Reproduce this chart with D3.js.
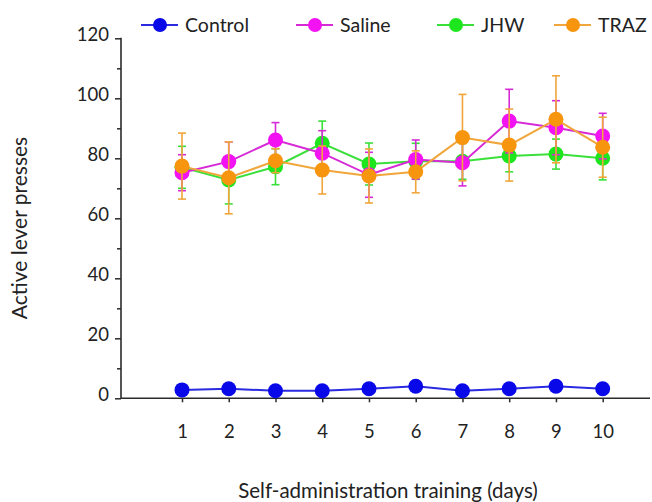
<!DOCTYPE html>
<html>
<head>
<meta charset="utf-8">
<script src="https://cdn.jsdelivr.net/npm/d3@7"></script>
<style>
  body { margin: 0; background: #fff; }
  svg { font-family: Lato, "Open Sans", sans-serif; }
</style>
</head>
<body>
<svg width="652" height="502"></svg>
<script>
// data
let days = [1, 2, 3, 4, 5, 6, 7, 8, 9, 10];
let yTicks = [0, 20, 40, 60, 80, 100, 120];
let yMinor = [10, 30, 50, 70, 90, 110];

let controlMean = [2.8, 3.2, 2.5, 2.5, 3.2, 4.0, 2.5, 3.2, 4.0, 3.2];
let controlSem  = [0.8, 0.8, 0.8, 0.8, 0.8, 0.8, 0.8, 0.8, 0.8, 0.8];
let jhwMean     = [77.0, 72.8, 77.2, 85.0, 78.1, 79.0, 79.0, 80.8, 81.4, 80.0];
let jhwSem      = [7.0, 8.0, 6.0, 7.4, 7.0, 6.0, 6.0, 5.3, 5.0, 7.2];
let salineMean  = [75.2, 78.9, 86.1, 81.7, 74.5, 79.6, 78.5, 92.4, 90.2, 87.4];
let salineSem   = [6.0, 6.6, 5.8, 7.5, 7.5, 6.5, 7.7, 10.6, 9.0, 7.6];
let trazMean    = [77.4, 73.5, 79.2, 76.1, 74.1, 75.5, 86.9, 84.4, 93.0, 83.7];
let trazSem     = [11.0, 12.0, 4.0, 8.0, 9.0, 7.0, 14.4, 12.0, 14.5, 10.0];

var svg = d3.select('svg');

let x = d3.scaleLinear().domain([1, 10]).range([182, 602.7]);
let y = d3.scaleLinear().domain([0, 120]).range([398.3, 38.3]);

let axisColor = '#2b2b2b';

// axes
let yAxis = svg.append('g')
    .attr('transform', 'translate(121,0)')
    .call(d3.axisLeft(y).tickValues(yTicks).tickSize(6).tickPadding(6).tickSizeOuter(0));
yAxis.select('.domain').remove();
yAxis.selectAll('line').attr('stroke', axisColor).attr('stroke-width', 1.5);
yAxis.selectAll('text')
    .attr('font-size', 18.5)
    .attr('fill', '#222')
    .attr('font-family', 'Lato, sans-serif')
    .attr('dy', '0.1em');

let yMinorAxis = svg.append('g')
    .attr('transform', 'translate(121,0)')
    .call(d3.axisLeft(y).tickValues(yMinor).tickSize(4).tickFormat(''));
yMinorAxis.select('.domain').remove();
yMinorAxis.selectAll('line').attr('stroke', axisColor).attr('stroke-width', 1.5);

svg.append('line')
    .attr('x1', 121).attr('x2', 121)
    .attr('y1', y(120) - 0.5).attr('y2', y(0) + 0.5)
    .attr('stroke', axisColor).attr('stroke-width', 1.6);

let xAxis = svg.append('g')
    .attr('transform', `translate(0,${y(0)})`)
    .call(d3.axisBottom(x).tickValues(days).tickSize(4).tickPadding(23).tickFormat(d3.format('d')));
xAxis.select('.domain').remove();
xAxis.selectAll('line').attr('stroke', axisColor).attr('stroke-width', 1.5);
xAxis.selectAll('text')
    .attr('font-size', 18.5)
    .attr('fill', '#222')
    .attr('font-family', 'Lato, sans-serif');

svg.append('line')
    .attr('x1', 121).attr('x2', 650)
    .attr('y1', y(0)).attr('y2', y(0))
    .attr('stroke', axisColor).attr('stroke-width', 1.6);

// axis titles
svg.append('text')
    .attr('x', 388).attr('y', 498)
    .attr('text-anchor', 'middle')
    .attr('font-size', 20.5)
    .attr('fill', '#222')
    .text('Self-administration training (days)');

svg.append('text')
    .attr('transform', 'translate(27,228) rotate(-90)')
    .attr('text-anchor', 'middle')
    .attr('font-size', 21)
    .attr('fill', '#222')
    .text('Active lever presses');

// series
let series = [
    {name: 'Control', mean: controlMean, sem: controlSem, dot: '#0808e8', line: '#2a2ae0'},
    {name: 'JHW', mean: jhwMean, sem: jhwSem, dot: '#1ee61e', line: '#3ae03a'},
    {name: 'Saline', mean: salineMean, sem: salineSem, dot: '#f212f2', line: '#d72ad7'},
    {name: 'TRAZ', mean: trazMean, sem: trazSem, dot: '#f7950f', line: '#f0a63a'}
];

let line = d3.line().x((d, i) => x(days[i])).y(d => y(d));

series.forEach(function (s) {
    let g = svg.append('g');
    g.append('path')
        .attr('d', line(s.mean))
        .attr('fill', 'none')
        .attr('stroke', s.line)
        .attr('stroke-width', 2);

    let bars = g.selectAll('g.err')
        .data(days)
        .enter()
        .append('g')
        .attr('class', 'err');
    bars.append('line')
        .attr('x1', d => x(d)).attr('x2', d => x(d))
        .attr('y1', (d, i) => y(s.mean[i] + s.sem[i]))
        .attr('y2', (d, i) => y(s.mean[i] - s.sem[i]))
        .attr('stroke', s.line).attr('stroke-width', 1.6);
    [1, -1].forEach(function (sign) {
        bars.append('line')
            .attr('x1', d => x(d) - 4).attr('x2', d => x(d) + 4)
            .attr('y1', (d, i) => y(s.mean[i] + sign * s.sem[i]))
            .attr('y2', (d, i) => y(s.mean[i] + sign * s.sem[i]))
            .attr('stroke', s.line).attr('stroke-width', 1.6);
    });

    g.selectAll('circle')
        .data(s.mean)
        .enter()
        .append('circle')
        .attr('cx', (d, i) => x(days[i]))
        .attr('cy', d => y(d))
        .attr('r', 7.5)
        .attr('fill', s.dot);
});

// legend
let legendItems = [
    {name: 'Control', cx: 160, color: '#0808e8', line: '#2a2ae0'},
    {name: 'Saline', cx: 315, color: '#f212f2', line: '#d72ad7'},
    {name: 'JHW', cx: 456, color: '#1ee61e', line: '#3ae03a'},
    {name: 'TRAZ', cx: 573, color: '#f7950f', line: '#f0a63a'}
];
let legend = svg.append('g');
legendItems.forEach(function (d) {
    legend.append('line')
        .attr('x1', d.cx - 19).attr('x2', d.cx + 18)
        .attr('y1', 25).attr('y2', 25)
        .attr('stroke', d.line).attr('stroke-width', 2);
    legend.append('circle')
        .attr('cx', d.cx).attr('cy', 25).attr('r', 7)
        .attr('fill', d.color);
    legend.append('text')
        .attr('x', d.cx + 25).attr('y', 32)
        .attr('font-size', 19.5)
        .attr('fill', '#222')
        .text(d.name);
});
</script>
</body>
</html>
